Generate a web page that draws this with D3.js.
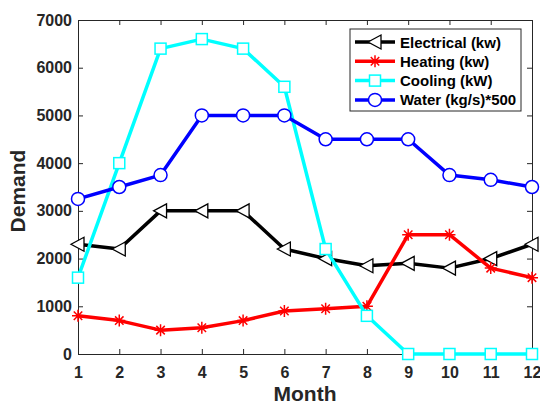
<!DOCTYPE html>
<html>
<head>
<meta charset="utf-8">
<script src="https://cdn.jsdelivr.net/npm/d3@7"></script>
<style>
  body { margin: 0; background: #fff; }
  text { font-family: "Liberation Sans", Arial, sans-serif; font-weight: bold; }
</style>
</head>
<body>
<div id="chart"></div>
<script>
// data
const months = [1, 2, 3, 4, 5, 6, 7, 8, 9, 10, 11, 12];
const electrical = [2300, 2200, 3000, 3000, 3000, 2200, 2000, 1850, 1900, 1800, 2000, 2300];
const heating = [800, 700, 500, 550, 700, 900, 950, 1000, 2500, 2500, 1800, 1600];
const cooling = [1600, 4000, 6400, 6600, 6400, 5600, 2200, 800, 0, 0, 0, 0];
const water = [3250, 3500, 3750, 5000, 5000, 5000, 4500, 4500, 4500, 3750, 3650, 3500];
const yTicks = [0, 1000, 2000, 3000, 4000, 5000, 6000, 7000];
const seriesNames = ["Electrical (kw)", "Heating (kw)", "Cooling (kW)", "Water (kg/s)*500"];

const margin = { top: 20, right: 8, bottom: 50, left: 78 };
const W = 540, H = 404;
const width = W - margin.left - margin.right;
const height = H - margin.top - margin.bottom;

const svg = d3.select("#chart").append("svg")
    .attr("width", W)
    .attr("height", H)
    .append("g")
    .attr("transform", `translate(${margin.left},${margin.top})`);

const x = d3.scaleLinear().domain([1, 12]).range([0, width]);
const y = d3.scaleLinear().domain([0, 7000]).range([height, 0]);

const axisColor = "#262626";

// axes with inward ticks, mirrored on top/right
const gx = svg.append("g")
    .attr("transform", `translate(0,${height})`)
    .call(d3.axisBottom(x).tickValues(months).tickSize(-5).tickPadding(13).tickFormat(d3.format("d")));
const gy = svg.append("g")
    .call(d3.axisLeft(y).tickValues(yTicks).tickSize(-5).tickPadding(6).tickFormat(d3.format("d")));
const gx2 = svg.append("g")
    .call(d3.axisTop(x).tickValues(months).tickSize(-5).tickFormat(""));
const gy2 = svg.append("g")
    .attr("transform", `translate(${width},0)`)
    .call(d3.axisRight(y).tickValues(yTicks).tickSize(-5).tickFormat(""));

[gx, gy, gx2, gy2].forEach(g => {
    g.select(".domain").attr("stroke", axisColor).attr("stroke-width", 1);
    g.selectAll(".tick line").attr("stroke", axisColor);
    g.selectAll(".tick text").attr("fill", axisColor).style("font-size", "16px").style("font-weight", "bold")
        .style("font-family", "'Liberation Sans', Arial, sans-serif");
});

// series
const series = [
    { name: seriesNames[0], values: electrical, color: "#000000", marker: "triangle" },
    { name: seriesNames[1], values: heating, color: "#ff0000", marker: "star" },
    { name: seriesNames[2], values: cooling, color: "#00ffff", marker: "square" },
    { name: seriesNames[3], values: water, color: "#0000ff", marker: "circle" }
];

const line = d3.line()
    .x((d, i) => x(months[i]))
    .y(d => y(d));

function drawMarker(g, type, color) {
    if (type === "triangle") {
        g.append("path").attr("d", "M-7,0L6,-7L6,7Z")
            .attr("fill", "#fff").attr("stroke", color).attr("stroke-width", 1.3);
    } else if (type === "star") {
        const r = 6;
        const p = [];
        for (let k = 0; k < 4; k++) {
            const a = k * Math.PI / 4;
            p.push(`M${-r * Math.cos(a)},${-r * Math.sin(a)}L${r * Math.cos(a)},${r * Math.sin(a)}`);
        }
        g.append("path").attr("d", p.join("")).attr("stroke", color).attr("stroke-width", 1.5).attr("fill", "none");
    } else if (type === "square") {
        g.append("rect").attr("x", -5.5).attr("y", -5.5).attr("width", 11).attr("height", 11)
            .attr("fill", "#fff").attr("stroke", color).attr("stroke-width", 1.5);
    } else {
        g.append("circle").attr("r", 6.5)
            .attr("fill", "#fff").attr("stroke", color).attr("stroke-width", 1.5);
    }
}

series.forEach(s => {
    svg.append("path")
        .datum(s.values)
        .attr("fill", "none")
        .attr("stroke", s.color)
        .attr("stroke-width", 3.5)
        .attr("stroke-linejoin", "round")
        .attr("d", line);
    s.values.forEach((v, i) => {
        const g = svg.append("g").attr("transform", `translate(${x(months[i])},${y(v)})`);
        drawMarker(g, s.marker, s.color);
    });
});

// axis labels
svg.append("text")
    .attr("x", width / 2)
    .attr("y", height + 47)
    .attr("text-anchor", "middle")
    .attr("fill", axisColor)
    .style("font-size", "21px")
    .text("Month");

svg.append("text")
    .attr("transform", "rotate(-90)")
    .attr("x", -171)
    .attr("y", -53)
    .attr("text-anchor", "middle")
    .attr("fill", axisColor)
    .style("font-size", "21px")
    .text("Demand");

// legend
const lx = 350 - margin.left, ly = 29 - margin.top;
const legend = svg.append("g").attr("transform", `translate(${lx},${ly})`);
legend.append("rect")
    .attr("width", 171).attr("height", 82)
    .attr("fill", "#fff").attr("stroke", axisColor).attr("stroke-width", 1);
series.forEach((s, i) => {
    const row = legend.append("g").attr("transform", `translate(0,${13 + i * 19.3})`);
    row.append("line").attr("x1", 5).attr("x2", 45).attr("y1", 0).attr("y2", 0)
        .attr("stroke", s.color).attr("stroke-width", 3.5);
    const m = row.append("g").attr("transform", "translate(25,0)");
    drawMarker(m, s.marker, s.color);
    row.append("text").attr("x", 50).attr("y", 5.5)
        .attr("fill", "#000")
        .style("font-size", "15px")
        .text(s.name);
});
</script>
</body>
</html>
